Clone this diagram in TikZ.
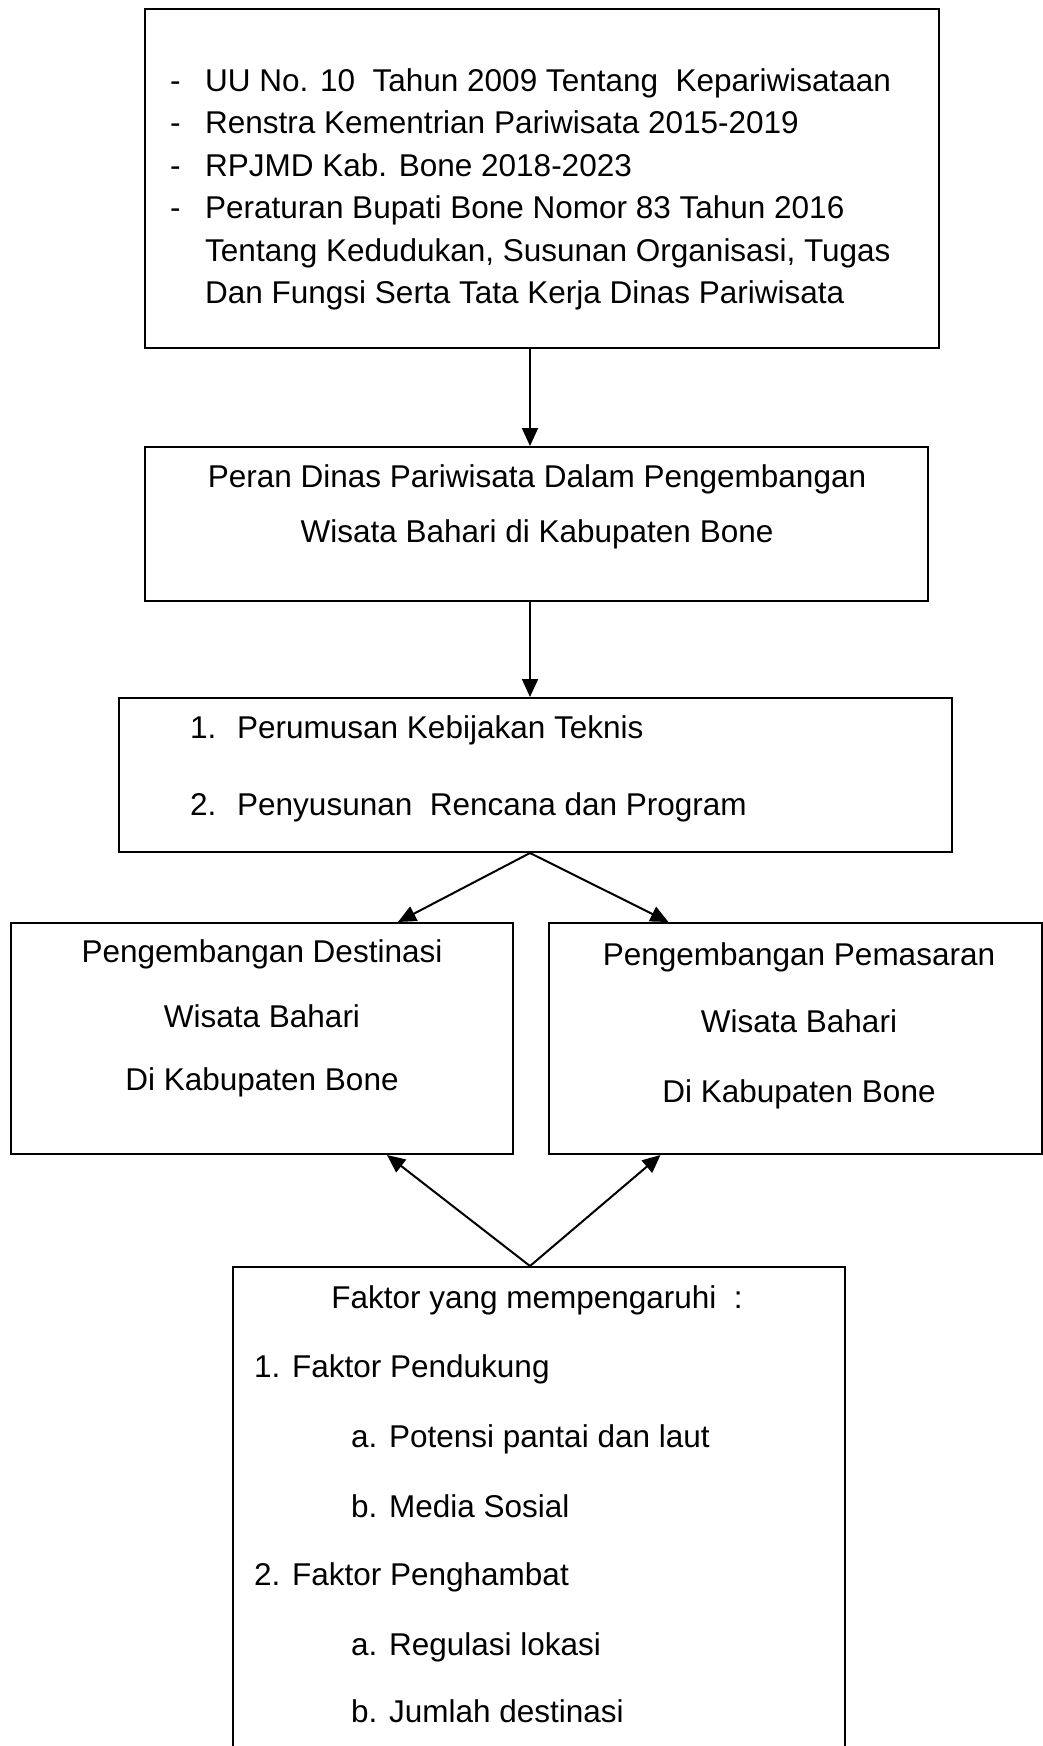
\documentclass[tikz,border=0pt]{standalone}
\usepackage{fontspec}
\setmainfont{Liberation Sans}
\usetikzlibrary{arrows.meta}
\tikzset{
  box/.style={draw, line width=2pt, inner sep=0pt},
  txt/.style={inner sep=0pt, font=\fontsize{31.5}{38}\selectfont},
  arr/.style={line width=2pt, -{Triangle[length=18pt,width=16pt]}}
}
\begin{document}
\begin{tikzpicture}[x=1pt, y=-1pt]
  \path[use as bounding box, clip] (0,0) rectangle (1043,1746);
  \fill[white] (0,0) rectangle (1043,1746);
  \coordinate (spine) at (530,0);

  % boxes
  \node[box, minimum width=794pt, minimum height=339pt] (legal) at (542,178.5) {};
  \node[box, minimum width=783pt, minimum height=154pt] (peran) at (536.5,524) {};
  \node[box, minimum width=833pt, minimum height=154pt] (plan) at (535.5,775) {};
  \node[box, minimum width=502pt, minimum height=231pt] (dest) at (262,1038.5) {};
  \node[box, minimum width=493pt, minimum height=231pt] (pasar) at (795.5,1038.5) {};
  \node[box, minimum width=612pt, minimum height=533pt] (faktor) at (539,1533.5) {};

  % dasar hukum
  \node[txt, anchor=base west] (uu) at (170,91) {\makebox[35pt][l]{-}UU No. 10\ \ Tahun 2009 Tentang\ \ Kepariwisataan};
  \node[txt, anchor=base west] (renstra) at (170,133) {\makebox[35pt][l]{-}Renstra Kementrian Pariwisata 2015-2019};
  \node[txt, anchor=base west] (rpjmd) at (170,176) {\makebox[35pt][l]{-}RPJMD Kab. Bone 2018-2023};
  \node[txt, anchor=base west] (perbup) at (170,218) {\makebox[35pt][l]{-}Peraturan Bupati Bone Nomor 83 Tahun 2016};
  \node[txt, anchor=base west] (perbupb) at (205,261) {Tentang Kedudukan, Susunan Organisasi, Tugas};
  \node[txt, anchor=base west] (perbupc) at (205,303) {Dan Fungsi Serta Tata Kerja Dinas Pariwisata};

  % peran
  \node[txt, anchor=base] (peranA) at (537,487) {Peran Dinas Pariwisata Dalam Pengembangan};
  \node[txt, anchor=base] (peranB) at (537,542) {Wisata Bahari di Kabupaten Bone};

  % tugas
  \node[txt, anchor=base west] (planA) at (190,738) {\makebox[47pt][l]{1.}Perumusan Kebijakan Teknis};
  \node[txt, anchor=base west] (planB) at (190,815) {\makebox[47pt][l]{2.}Penyusunan\ \ Rencana dan Program};

  % pengembangan
  \node[txt, anchor=base] (destA) at (262,962) {Pengembangan Destinasi};
  \node[txt, anchor=base] (destB) at (262,1027) {Wisata Bahari};
  \node[txt, anchor=base] (destC) at (262,1090) {Di Kabupaten Bone};
  \node[txt, anchor=base] (pasarA) at (799,965) {Pengembangan Pemasaran};
  \node[txt, anchor=base] (pasarB) at (799,1032) {Wisata Bahari};
  \node[txt, anchor=base] (pasarC) at (799,1102) {Di Kabupaten Bone};

  % faktor
  \node[txt, anchor=base] (fkHead) at (537,1308) {Faktor yang mempengaruhi\ \ :};
  \node[txt, anchor=base west] (fkA) at (254,1377) {1. Faktor Pendukung};
  \node[txt, anchor=base west] (fkAa) at (351,1447) {a. Potensi pantai dan laut};
  \node[txt, anchor=base west] (fkAb) at (351,1517) {b. Media Sosial};
  \node[txt, anchor=base west] (fkB) at (254,1585) {2. Faktor Penghambat};
  \node[txt, anchor=base west] (fkBa) at (351,1655) {a. Regulasi lokasi};
  \node[txt, anchor=base west] (fkBb) at (351,1722) {b. Jumlah destinasi};

  % arrows
  \draw[arr] (spine |- legal.south) -- (spine |- peran.north);
  \draw[arr] (spine |- peran.south) -- (spine |- plan.north);
  \draw[arr] (spine |- plan.south) -- ([xshift=136pt]dest.north);
  \draw[arr] (spine |- plan.south) -- ([xshift=-127pt]pasar.north);
  \draw[arr] (spine |- faktor.north) -- ([xshift=125pt]dest.south);
  \draw[arr] (spine |- faktor.north) -- ([xshift=-135pt]pasar.south);
\end{tikzpicture}
\end{document}
